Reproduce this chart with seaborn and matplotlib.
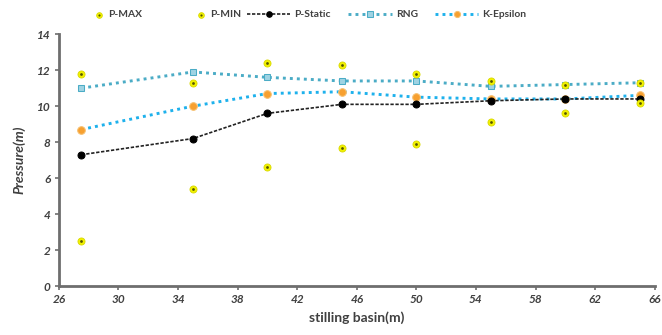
import matplotlib
matplotlib.use("Agg")
import matplotlib.pyplot as plt
from matplotlib.legend_handler import HandlerTuple
import seaborn as sns
import pandas as pd

sns.set_theme(style="white")
plt.rcParams['font.family'] = ['Lato', 'DejaVu Sans']

x = [27.5, 35, 40, 45, 50, 55, 60, 65]
p_max = [11.8, 11.3, 12.4, 12.3, 11.8, 11.4, 11.2, 11.3]
p_min = [2.5, 5.4, 6.6, 7.7, 7.9, 9.1, 9.6, 10.2]
p_static = [7.3, 8.2, 9.6, 10.1, 10.1, 10.3, 10.4, 10.4]
rng = [11.0, 11.9, 11.6, 11.4, 11.4, 11.1, 11.2, 11.3]
k_eps = [8.7, 10.0, 10.7, 10.8, 10.5, 10.4, 10.4, 10.6]

df = pd.DataFrame({"x": x, "P-MAX": p_max, "P-MIN": p_min, "P-Static": p_static,
                   "RNG": rng, "K-Epsilon": k_eps})

fig = plt.figure(figsize=(6.62, 3.35), dpi=100)
ax = fig.add_axes([0.089, 0.146, 0.900, 0.752])

yel = "#f2f200"
sns.lineplot(data=df, x="x", y="RNG", ax=ax, color="#4bacc6", lw=2.1,
             linestyle=(0, (1, 1.4)), marker="s", markersize=5,
             markerfacecolor="#9fd3e3", markeredgecolor="#4bacc6", label="RNG", zorder=2)
sns.lineplot(data=df, x="x", y="K-Epsilon", ax=ax, color="#1eb1ec", lw=2.1,
             linestyle=(0, (1, 1.4)), marker="o", markersize=5.5,
             markerfacecolor="#f7a030", markeredgecolor="#f7c070", label="K-Epsilon", zorder=2)
sns.lineplot(data=df, x="x", y="P-Static", ax=ax, color="#222222", lw=1.2,
             linestyle=(0, (2, 1)), marker="o", markersize=5,
             markerfacecolor="black", markeredgecolor="black", label="P-Static", zorder=3)
sns.scatterplot(data=df, x="x", y="P-MAX", ax=ax, color=yel, s=26, edgecolor="#d8d800",
                linewidth=0.6, label="P-MAX", zorder=4)
sns.scatterplot(data=df, x="x", y="P-MIN", ax=ax, color=yel, s=26, edgecolor="#d8d800",
                linewidth=0.6, label="P-MIN", zorder=4)
dmax = ax.scatter(df["x"], df["P-MAX"], s=4, color="#555500", zorder=5, linewidths=0)
dmin = ax.scatter(df["x"], df["P-MIN"], s=4, color="#555500", zorder=5, linewidths=0)

ax.set_xlim(26, 66)
ax.set_ylim(0, 14)
ax.set_xticks(range(26, 67, 4))
ax.set_yticks(range(0, 15, 2))
for s in ["top", "right"]:
    ax.spines[s].set_visible(False)
for s in ["left", "bottom"]:
    ax.spines[s].set_color("#6e6e6e")
    ax.spines[s].set_linewidth(2)
ax.tick_params(axis="both", direction="out", length=3, width=1.2, color="#6e6e6e",
               labelsize=8.5, labelcolor="#404040", bottom=True, left=True, pad=3)
for lab in ax.get_xticklabels() + ax.get_yticklabels():
    lab.set_fontstyle("italic")
    lab.set_fontweight("bold")
ax.set_xlabel("stilling basin(m)", fontsize=10, fontweight="bold", color="#404040", labelpad=4)
ax.set_ylabel("Pressure(m)", fontsize=10, fontweight="bold", fontstyle="italic",
              color="#404040", labelpad=8)

h, l = ax.get_legend_handles_labels()
ax.get_legend().remove()
hd = dict(zip(l, h))

leg1 = fig.legend([(hd["P-MAX"], dmax), (hd["P-MIN"], dmin)], ["P-MAX", "P-MIN"],
                  loc="upper left", handler_map={tuple: HandlerTuple(ndivide=1, pad=0)},
                  bbox_to_anchor=(0.133, 0.988), ncol=2, frameon=False, fontsize=7.4,
                  columnspacing=5.2, handlelength=1.0, handletextpad=0.4,
                  markerscale=0.8, borderaxespad=0.2)
leg2 = fig.legend([hd["P-Static"], hd["RNG"], hd["K-Epsilon"]],
                  ["P-Static", "RNG", "K-Epsilon"], loc="upper left",
                  bbox_to_anchor=(0.364, 0.988), ncol=3, frameon=False, fontsize=7.4,
                  columnspacing=1.7, handlelength=4.2, handletextpad=0.4,
                  markerscale=0.8, borderaxespad=0.2)
for leg in (leg1, leg2):
    for t in leg.get_texts():
        t.set_fontweight("bold")
        t.set_color("#404040")

fig.savefig("out.png", dpi=100)
